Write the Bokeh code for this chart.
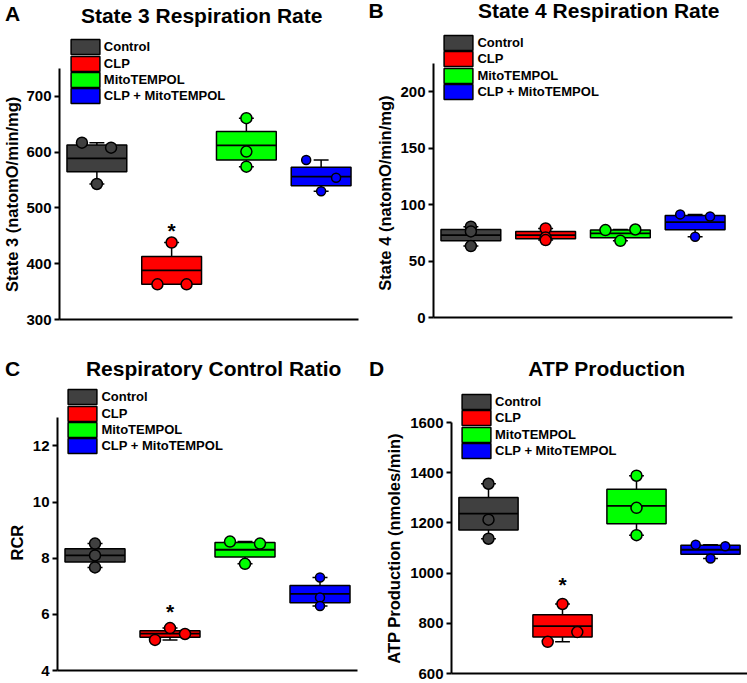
from bokeh.plotting import figure
from bokeh.models import Range1d, FixedTicker, Legend, LegendItem, Div, Title
from bokeh.layouts import row, column
from bokeh.core.properties import value
from bokeh.embed import file_html
from bokeh.resources import INLINE

FONT = "Liberation Sans"

groups = ["Control", "CLP", "MitoTEMPOL", "CLP + MitoTEMPOL"]
colors = ["#404040", "#ff0000", "#00ff00", "#0000ff"]
point_sizes = [11, 11, 11, 9]

# Panel A: State 3
a_q1 = [565, 363, 586, 540]
a_med = [589, 388, 612, 556]
a_q3 = [613, 413, 637, 573]
a_wlo = [543, 363, 574, 530]
a_whi = [617, 438, 661, 586]
a_pts = [[617, 608, 543], [438, 363, 363], [661, 601, 574], [586, 554, 530]]
a_jit = [[-0.2, 0.19, 0], [0, -0.19, 0.2], [0, 0, 0], [-0.2, 0.2, 0]]
a_star = 461
a_ticks = [300, 400, 500, 600, 700]
a_axis = (300, 750)

# Panel B: State 4
b_q1 = [68, 69.8, 70.7, 77.8]
b_med = [73, 73, 74.6, 84.6]
b_q3 = [78, 76.3, 77.5, 90.5]
b_wlo = [63.3, 68.6, 68, 71.6]
b_whi = [80.5, 79, 78, 91.4]
b_pts = [[80.5, 76.3, 63.3], [79, 71, 68.6], [77.5, 78, 68], [91.4, 89.6, 71.6]]
b_jit = [[0, 0, 0], [0, 0, 0], [-0.2, 0.2, 0], [-0.2, 0.2, 0]]
b_ticks = [0, 50, 100, 150, 200]
b_axis = (0, 225)

# Panel C: RCR
c_q1 = [7.86, 5.18, 8.04, 6.41]
c_med = [8.1, 5.31, 8.3, 6.73]
c_q3 = [8.34, 5.42, 8.56, 7.03]
c_wlo = [7.67, 5.09, 7.8, 6.30]
c_whi = [8.52, 5.51, 8.59, 7.31]
c_pts = [[8.52, 8.1, 7.67], [5.51, 5.09, 5.30], [8.59, 8.52, 7.8], [7.31, 6.6, 6.30]]
c_jit = [[0, 0, 0], [0, -0.2, 0.2], [-0.2, 0.2, 0], [0, 0, 0]]
c_star = 6.14
c_ticks = [4, 6, 8, 10, 12]
c_axis = (4, 13)

# Panel D: ATP production
d_q1 = [1172, 745, 1197, 1075]
d_med = [1237, 789, 1268, 1093]
d_q3 = [1301, 834, 1334, 1111]
d_wlo = [1137, 726, 1151, 1058]
d_whi = [1356, 877, 1388, 1113]
d_pts = [[1356, 1213, 1137], [877, 726, 765], [1388, 1260, 1151], [1113, 1107, 1058]]
d_jit = [[0, 0, 0], [0, -0.2, 0.2], [0, 0, 0], [-0.2, 0.2, 0]]
d_star = 959
d_ticks = [600, 800, 1000, 1200, 1400, 1600]
d_axis = (600, 1600)


def header(width, height, letter, letter_left, letter_base, title, title_center, title_base):
    html = (
        f'<div style="position:relative;width:{width}px;height:{height}px;'
        f'font-family:\'{FONT}\';font-weight:bold;font-size:21px;line-height:21px;color:black;">'
        f'<span style="position:absolute;left:{letter_left}px;top:{letter_base - 18}px;white-space:nowrap;">{letter}</span>'
        f'<span style="position:absolute;left:{title_center - 170}px;width:340px;top:{title_base - 18}px;'
        f'text-align:center;white-space:nowrap;">{title}</span></div>'
    )
    return Div(text=html, width=width, height=height, margin=(0, 0, 0, 0))


def make_panel(width, height, bl, br, frame_top, axis_top, frame_bottom, axis_rng, ticks,
               ylabel, label_offset, label_standoff, sw_x, sw_top,
               q1, med, q3, wlo, whi, pts, jit, star=None):
    y0, y1 = axis_rng
    per_px = (y1 - y0) / (frame_bottom - axis_top)
    y_end = y1 + (axis_top - frame_top) * per_px
    fig_h = height - frame_top
    bb = height - frame_bottom
    p = figure(width=width, height=fig_h, x_range=Range1d(0, 4), y_range=Range1d(y0, y_end),
               output_backend="svg", toolbar_location=None,
               min_border_left=bl, min_border_top=0, min_border_bottom=bb, min_border_right=br)
    p.xgrid.visible = False
    p.ygrid.visible = False
    p.outline_line_color = None
    p.background_fill_color = "white"
    p.border_fill_color = "white"

    xa = p.xaxis[0]
    xa.ticker = FixedTicker(ticks=[])
    xa.major_tick_out = 0
    xa.major_tick_in = 0
    xa.minor_tick_out = 0
    xa.minor_tick_in = 0
    xa.major_label_standoff = 0
    xa.major_label_text_font_size = "0px"
    xa.axis_line_width = 2
    xa.axis_line_color = "black"

    ya = p.yaxis[0]
    ya.ticker = FixedTicker(ticks=ticks)
    ya.bounds = (y0, y1)
    ya.major_tick_in = 0
    ya.major_tick_out = 5
    ya.major_tick_line_width = 2
    ya.major_tick_line_color = "black"
    ya.minor_tick_out = 0
    ya.axis_line_width = 2
    ya.axis_line_color = "black"
    ya.major_label_standoff = 3
    ya.major_label_text_font = FONT
    ya.major_label_text_font_size = "15px"
    ya.major_label_text_font_style = "bold"
    ya.major_label_text_color = "black"

    # y-axis label as a side title so it can be positioned along the visible axis
    p.add_layout(Title(text=ylabel, align="left", offset=label_offset, vertical_align="middle",
                       standoff=label_standoff, text_font=FONT, text_font_size="16.5px",
                       text_font_style="bold", text_color="black"), "left")

    box_renderers = []
    for i, g in enumerate(groups):
        xc = i + 0.5
        if whi[i] > q3[i]:
            p.segment(x0=[xc], x1=[xc], y0=[q3[i]], y1=[whi[i]], line_color="black", line_width=1.5)
            p.segment(x0=[xc - 0.1], x1=[xc + 0.1], y0=[whi[i]], y1=[whi[i]], line_color="black", line_width=1.5)
        if wlo[i] < q1[i]:
            p.segment(x0=[xc], x1=[xc], y0=[q1[i]], y1=[wlo[i]], line_color="black", line_width=1.5)
            p.segment(x0=[xc - 0.1], x1=[xc + 0.1], y0=[wlo[i]], y1=[wlo[i]], line_color="black", line_width=1.5)
        r = p.quad(left=[xc - 0.4], right=[xc + 0.4], bottom=[q1[i]], top=[q3[i]],
                   fill_color=colors[i], line_color="black", line_width=1.5)
        box_renderers.append(r)
        p.segment(x0=[xc - 0.4], x1=[xc + 0.4], y0=[med[i]], y1=[med[i]], line_color="black", line_width=1.8)
        p.scatter(x=[xc + j for j in jit[i]], y=pts[i], size=point_sizes[i],
                  fill_color=colors[i], line_color="black", line_width=1.5)

    if star is not None:
        p.text(x=[1.5], y=[star], text=["*"], text_font=value(FONT), text_font_size="21px",
               text_font_style="bold", text_align="center", text_baseline="alphabetic",
               y_offset=1, text_color="black")

    # one legend per entry so that the swatch pitch matches the reference
    glyph_h = 19
    inset = 0.1 * glyph_h
    for k, g in enumerate(groups):
        top = sw_top + k * 16.25 - inset - frame_top
        loc_y = (frame_bottom - frame_top) - (top + glyph_h)
        loc_x = sw_x - 0.1 * 36
        leg = Legend(items=[LegendItem(label=g, renderers=[box_renderers[k]])],
                     location=(loc_x, loc_y), padding=0, margin=0, spacing=0,
                     glyph_width=36, glyph_height=glyph_h, label_height=15, label_standoff=1,
                     label_text_font=FONT, label_text_font_size="13px", label_text_font_style="bold",
                     label_text_color="black", border_line_color=None, background_fill_alpha=0)
        p.add_layout(leg)
    return p


hA = header(368, 30, "A", 5, 20.7, "State 3 Respiration Rate", 201.7, 22.7)
pA = make_panel(368, 340, 59, 10, 30, 68, 319, a_axis, a_ticks, "State 3 (natomO/min/mg)", 27.6, 3,
                11.4, 39.3, a_q1, a_med, a_q3, a_wlo, a_whi, a_pts, a_jit, a_star)
hB = header(379, 30, "B", 0.5, 18.3, "State 4 Respiration Rate", 230.7, 18.3)
pB = make_panel(379, 340, 65, 15, 30, 63.2, 317, b_axis, b_ticks, "State 4 (natomO/min/mg)", 26.7, 6,
                11, 35, b_q1, b_med, b_q3, b_wlo, b_whi, b_pts, b_jit)
hC = header(368, 44, "C", 5, 36, "Respiratory Control Ratio", 213.7, 36)
pC = make_panel(368, 343, 57, 11, 44, 77.3, 330, c_axis, c_ticks, "RCR", 110, 6,
                11, 49.3, c_q1, c_med, c_q3, c_wlo, c_whi, c_pts, c_jit, c_star)
hD = header(379, 44, "D", 1, 36, "ATP Production", 238.7, 36)
pD = make_panel(379, 343, 83, 0, 44, 82, 333, d_axis, d_ticks, "ATP Production (nmoles/min)", 9.7, 8,
                10.6, 54, d_q1, d_med, d_q3, d_wlo, d_whi, d_pts, d_jit, d_star)

layout = column(row(column(hA, pA, spacing=0), column(hB, pB, spacing=0), spacing=0),
                row(column(hC, pC, spacing=0), column(hD, pD, spacing=0), spacing=0),
                spacing=0)
open("out.html", "w").write(file_html(layout, INLINE))
